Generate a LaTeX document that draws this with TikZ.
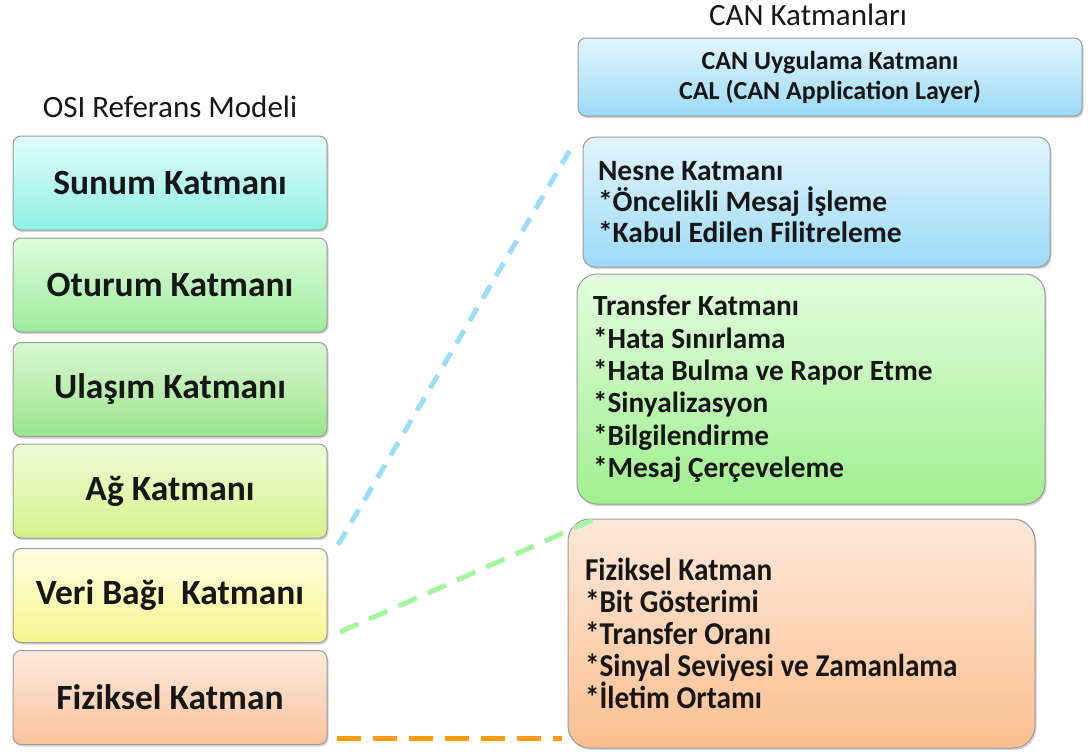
\documentclass[tikz,border=0pt]{standalone}
\usepackage{fontspec}
\setmainfont{Carlito}
\newfontfamily\condfont[FakeStretch=0.92]{Carlito}
\usetikzlibrary{shadows}
\definecolor{txt}{HTML}{161616}
\definecolor{bordergray}{HTML}{9A9A9A}
\definecolor{dashblue}{HTML}{99DDF7}
\definecolor{dashgreen}{HTML}{A3F5A0}
\definecolor{dashorange}{HTML}{FF9A10}
% gradients
\definecolor{sunT}{HTML}{E2FDFA}\definecolor{sunB}{HTML}{8DF0E4}
\definecolor{otuT}{HTML}{DDFCDD}\definecolor{otuB}{HTML}{9DEC9D}
\definecolor{ulaT}{HTML}{D8F8CF}\definecolor{ulaB}{HTML}{9CE48E}
\definecolor{agT}{HTML}{F0FCD6}\definecolor{agB}{HTML}{D5F28C}
\definecolor{verT}{HTML}{FFFFE4}\definecolor{verB}{HTML}{F8F58E}
\definecolor{fizT}{HTML}{FDEADD}\definecolor{fizB}{HTML}{F9C29C}
\definecolor{bluT}{HTML}{E2F5FD}\definecolor{bluB}{HTML}{9CDAF6}
\definecolor{grnT}{HTML}{E2FCDE}\definecolor{grnB}{HTML}{A0F08F}
\definecolor{orgT}{HTML}{FDE8DA}\definecolor{orgB}{HTML}{FBBF8F}
\tikzset{
  box/.style={draw=bordergray, line width=1pt, text=txt,
    drop shadow={opacity=0.35, shadow xshift=1.5pt, shadow yshift=-2pt},
    inner sep=0pt},
  osibox/.style={box, rounded corners=8pt, minimum width=314pt, minimum height=94pt,
    font=\fontsize{35.5}{40}\selectfont\bfseries},
  listbox/.style={box, align=left,
    execute at begin node={\spaceskip=0pt\xspaceskip=0pt\relax}},
  title/.style={text=txt, inner sep=0pt, font=\fontsize{31}{36}\selectfont},
  dline/.style={line width=5pt}
}
\begin{document}
\begin{tikzpicture}[x=1pt,y=-1pt]
\useasboundingbox (0,0) rectangle (1092,753);
% titles
\node[title] (osititle) at (170,107) {OSI Referans Modeli};
\node[title] (cantitle) at (808,15) {CAN Katmanları};
% OSI boxes
\node[osibox, top color=sunT, bottom color=sunB] (sunum) at (170,183) {Sunum Katmanı};
\node[osibox, top color=otuT, bottom color=otuB] (oturum) at (170,285) {Oturum Katmanı};
\node[osibox, top color=ulaT, bottom color=ulaB] (ulasim) at (170,389.5) {Ulaşım Katmanı};
\node[osibox, top color=agT, bottom color=agB] (ag) at (170,491) {Ağ Katmanı};
\node[osibox, top color=verT, bottom color=verB] (veri) at (170,595.5) {Veri Bağı~ Katmanı};
\node[osibox, top color=fizT, bottom color=fizB] (fiz) at (170,697.5) {Fiziksel Katman};
% CAN boxes
\node[box, rounded corners=8pt, top color=bluT, bottom color=bluB, align=center,
  minimum width=504pt, minimum height=78pt, font=\fontsize{26}{30}\selectfont\bfseries]
  (canapp) at (830,77) {CAN Uygulama Katmanı\\CAL (CAN Application Layer)};
\node[listbox, rounded corners=12pt, top color=bluT, bottom color=bluB,
  minimum width=467pt, minimum height=130pt, text width=437pt, inner xsep=15pt,
  font=\fontsize{29.5}{31}\selectfont\bfseries]
  (nesne) at (816.5,202) {Nesne Katmanı\\{}*Öncelikli Mesaj İşleme\\{}*Kabul Edilen Filitreleme\\[4pt]};
\node[listbox, rounded corners=20pt, top color=grnT, bottom color=grnB,
  minimum width=468pt, minimum height=230pt, text width=436pt, inner xsep=16pt,
  font=\fontsize{29.3}{32.3}\selectfont\bfseries]
  (transfer) at (811,389) {Transfer Katmanı\\{}*Hata Sınırlama\\{}*Hata Bulma ve Rapor Etme\\{}*Sinyalizasyon\\{}*Bilgilendirme\\{}*Mesaj Çerçeveleme\\[-4pt]};
\node[listbox, rounded corners=22pt, top color=orgT, bottom color=orgB,
  minimum width=467pt, minimum height=229pt, text width=433pt, inner xsep=17pt,
  font=\condfont\fontsize{31.8}{32}\selectfont\bfseries]
  (fizcan) at (801.5,633.5) {Fiziksel Katman\\{}*Bit Gösterimi\\{}*Transfer Oranı\\{}*Sinyal Seviyesi ve Zamanlama\\{}*İletim Ortamı\\[2pt]};
% dashed connectors
\coordinate (b1) at (338,545);
\coordinate (b2) at (573,145);
\coordinate (g1) at (340,632);
\coordinate (g2) at (597,518);
\coordinate (o1) at (337,738);
\coordinate (o2) at (562,738);
\draw[dline, dashblue, dash pattern=on 15pt off 11pt] (b1) -- (b2);
\draw[dline, dashgreen, dash pattern=on 20pt off 12pt] (g1) -- (g2);
\draw[dline, dashorange, dash pattern=on 24pt off 12pt] (o1) -- (o2);
\end{tikzpicture}
\end{document}
